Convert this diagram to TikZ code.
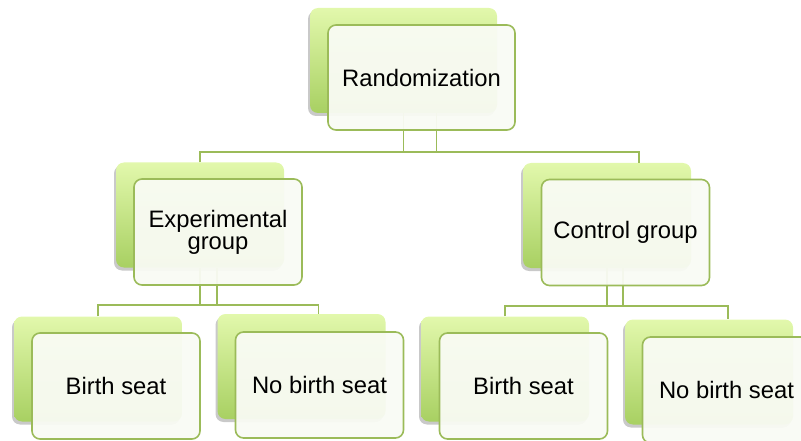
\documentclass[tikz,border=0pt]{standalone}
\usepackage{fontspec}
\setmainfont{Liberation Sans}
\usetikzlibrary{shadows}
\definecolor{boxline}{RGB}{155,187,89}
\definecolor{backtop}{RGB}{226,248,172}
\definecolor{backbot}{RGB}{168,208,98}
\definecolor{paper}{RGB}{249,251,244}
\tikzset{
  backbox/.style={rounded corners=8pt, inner sep=0pt, minimum width=168pt, minimum height=105pt,
    top color=backtop, bottom color=backbot,
    drop shadow={shadow xshift=-2pt, shadow yshift=-3pt, opacity=0.3, fill=black!70}},
  frontbox/.style={rounded corners=8pt, draw=boxline, line width=1.6pt, fill=paper, fill opacity=0.95,
    text opacity=1, inner sep=0pt, minimum width=168pt, minimum height=106pt, align=center,
    font=\fontsize{23.8}{22}\selectfont},
  link/.style={draw=boxline, line width=1.7pt}
}
\begin{document}
\begin{tikzpicture}[x=1pt,y=-1pt]
  \useasboundingbox (0,0) rectangle (801,441);
  \clip (0,0) rectangle (801,441);
  % back boxes
  \node[backbox, minimum width=187pt] (randB) at (403.5,60.5) {};
  \node[backbox] (expB) at (200,215) {};
  \node[backbox] (ctlB) at (607,215.5) {};
  \node[backbox] (ebB) at (98,369) {};
  \node[backbox] (enB) at (301.5,366.5) {};
  \node[backbox] (cbB) at (505,369) {};
  \node[backbox] (cnB) at (709,372) {};
  % bus lines
  \coordinate (bus0) at (0,152);
  \coordinate (bus1) at (0,305);
  \coordinate (bus2) at (0,306);
  % links
  \draw[link] (expB.north) |- ([xshift=32pt]ctlB.north |- bus0) -- ([xshift=32pt]ctlB.north);
  \draw[link] (randB.south) -- (randB.south |- bus0);
  \draw[link] ([xshift=33pt]randB.south) -- ([xshift=33pt]randB.south |- bus0);
  \draw[link] (ebB.north) |- ([xshift=17pt]enB.north |- bus1) -- ([xshift=17pt]enB.north);
  \draw[link] (expB.south) -- (expB.south |- bus1);
  \draw[link] ([xshift=17pt]expB.south) -- ([xshift=17pt]expB.south |- bus1);
  \draw[link] (cbB.north) |- ([xshift=19pt]cnB.north |- bus2) -- ([xshift=19pt]cnB.north);
  \draw[link] (ctlB.south) -- (ctlB.south |- bus2);
  \draw[link] ([xshift=16pt]ctlB.south) -- ([xshift=16pt]ctlB.south |- bus2);
  % front boxes
  \node[frontbox, minimum width=187pt, minimum height=105pt] (rand) at ([shift={(18,17)}]randB) {Randomization};
  \node[frontbox] (exp) at ([shift={(18,17)}]expB) {Experimental\\group};
  \node[frontbox] (ctl) at ([shift={(18.5,17)}]ctlB) {Control group};
  \node[frontbox] (eb) at ([shift={(18,17)}]ebB) {Birth seat};
  \node[frontbox] (en) at ([shift={(18,18.5)}]enB) {No birth seat};
  \node[frontbox] (cb) at ([shift={(18.5,17)}]cbB) {Birth seat};
  \node[frontbox] (cn) at ([shift={(17.5,18)}]cnB) {No birth seat};
\end{tikzpicture}
\end{document}
